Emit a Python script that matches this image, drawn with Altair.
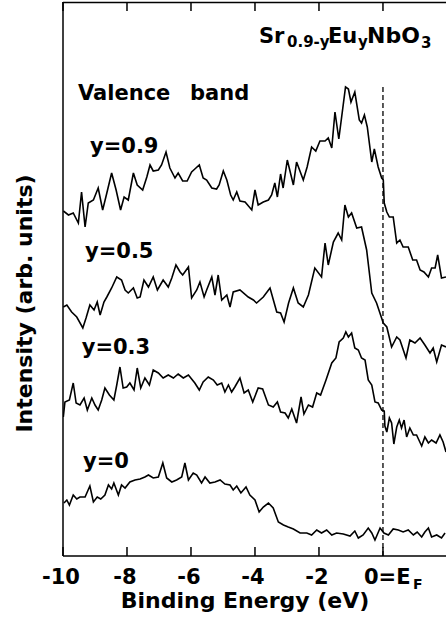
import altair as alt
import pandas as pd

# ---------------- data ----------------
series_names = ["y=0.9", "y=0.5", "y=0.3", "y=0"]

e09 = [-9.99,-9.83,-9.68,-9.52,-9.42,-9.31,-9.21,-9.05,-8.90,-8.76,-8.63,-8.48,-8.34,-8.20,-8.09,-7.96,-7.80,-7.68,-7.51,-7.38,
       -7.28,-7.18,-7.02,-6.92,-6.78,-6.66,-6.50,-6.40,-6.26,-6.12,-5.98,-5.88,-5.74,-5.62,-5.51,-5.35,-5.20,-5.12,-4.99,-4.88,
       -4.76,-4.68,-4.57,-4.47,-4.31,-4.10,-4.00,-3.90,-3.74,-3.58,-3.48,-3.38,-3.30,-3.20,-3.12,-2.99,-2.80,-2.70,-2.49,-2.37,
       -2.23,-2.10,-1.97,-1.81,-1.71,-1.60,-1.50,-1.38,-1.17,-1.08,-1.00,-0.88,-0.74,-0.67,-0.58,-0.49,-0.35,-0.27,-0.15,-0.04,
       0.01,0.04,0.12,0.20,0.32,0.43,0.53,0.63,0.79,0.93,1.05,1.16,1.28,1.42,1.52,1.63,1.71,1.83,1.97]
i09 = [345,341,343,333,364,329,353,356,368,346,363,383,366,346,359,356,383,371,366,379,
       391,385,386,391,404,388,378,383,375,375,384,387,391,378,376,368,367,371,385,376,
       361,356,364,355,354,346,366,351,354,356,361,373,359,382,368,396,371,394,376,389,
       409,405,415,415,418,408,444,417,469,467,454,464,436,433,441,429,394,407,389,378,
       376,353,344,339,339,313,316,309,309,296,296,286,284,279,288,288,301,278,279]

e05 = [-9.99,-9.88,-9.73,-9.57,-9.38,-9.28,-9.16,-9.03,-8.93,-8.84,-8.72,-8.63,-8.48,-8.32,-8.17,-8.06,-7.96,-7.80,-7.68,-7.59,
       -7.47,-7.33,-7.18,-7.05,-6.87,-6.71,-6.60,-6.47,-6.34,-6.26,-6.08,-5.98,-5.82,-5.72,-5.59,-5.51,-5.35,-5.25,-5.15,-5.04,
       -4.88,-4.78,-4.68,-4.47,-4.21,-4.05,-3.95,-3.74,-3.53,-3.32,-3.20,-3.09,-2.95,-2.80,-2.65,-2.49,-2.33,-2.13,-1.92,-1.81,
       -1.71,-1.55,-1.40,-1.29,-1.19,-1.08,-0.98,-0.82,-0.67,-0.51,-0.35,-0.20,0.01,0.12,0.27,0.43,0.53,0.72,0.84,1.00,
       1.16,1.31,1.47,1.57,1.68,1.83,1.97]
i05 = [249,251,244,239,228,238,251,246,254,241,254,259,268,279,276,266,263,268,258,259,
       276,269,279,266,276,269,278,291,284,281,289,258,266,274,259,266,279,261,281,256,
       261,249,264,266,259,256,253,259,268,244,243,234,253,268,253,249,261,288,279,313,
       291,314,323,316,351,339,343,328,329,306,263,253,233,229,209,219,216,198,216,213,
       218,211,203,208,194,211,209]

e03 = [-9.99,-9.94,-9.80,-9.68,-9.59,-9.47,-9.34,-9.24,-9.10,-9.00,-8.90,-8.79,-8.69,-8.55,-8.41,-8.32,-8.22,-8.12,-8.01,-7.91,
       -7.78,-7.68,-7.57,-7.44,-7.30,-7.18,-7.02,-6.87,-6.71,-6.55,-6.40,-6.24,-6.08,-5.88,-5.74,-5.62,-5.46,-5.30,-5.18,-5.04,
       -4.94,-4.83,-4.73,-4.63,-4.47,-4.34,-4.21,-4.07,-3.90,-3.76,-3.58,-3.43,-3.30,-3.20,-3.06,-2.96,-2.85,-2.70,-2.56,-2.47,
       -2.33,-2.20,-2.07,-1.95,-1.78,-1.60,-1.47,-1.37,-1.24,-1.16,-1.08,-0.98,-0.88,-0.77,-0.67,-0.56,-0.46,-0.35,-0.25,-0.15,
       -0.04,0.04,0.06,0.12,0.20,0.27,0.34,0.43,0.51,0.58,0.66,0.74,0.84,0.95,1.05,1.21,1.31,1.42,1.52,1.66,
       1.78,1.88,1.97]
i03 = [139,154,156,173,153,151,158,146,158,151,146,156,168,161,156,171,189,168,169,173,
       166,188,168,178,171,186,183,178,181,178,182,178,181,173,166,174,179,176,171,173,
       164,171,164,169,178,163,166,154,168,167,151,149,154,144,143,138,147,133,159,142,
       151,149,163,161,176,193,198,214,218,224,219,223,208,206,198,196,176,171,154,153,
       146,145,130,124,138,133,112,129,136,128,136,119,128,121,121,110,119,113,116,113,
       121,114,104]

e00 = [-9.97,-9.88,-9.80,-9.68,-9.57,-9.47,-9.31,-9.16,-9.05,-8.93,-8.82,-8.69,-8.58,-8.48,-8.41,-8.27,-8.17,-8.06,-7.91,-7.75,
       -7.59,-7.44,-7.33,-7.18,-7.02,-6.88,-6.76,-6.60,-6.45,-6.29,-6.19,-6.08,-5.93,-5.82,-5.67,-5.56,-5.41,-5.25,-5.09,-4.94,
       -4.78,-4.68,-4.57,-4.44,-4.28,-4.16,-4.00,-3.87,-3.74,-3.58,-3.43,-3.27,-3.11,-2.96,-2.80,-2.59,-2.38,-2.23,-2.07,-1.92,
       -1.76,-1.60,-1.45,-1.24,-1.03,-0.88,-0.77,-0.62,-0.46,-0.35,-0.25,-0.09,0.03,0.17,0.32,0.48,0.63,0.79,0.95,1.07,
       1.21,1.31,1.42,1.52,1.68,1.83,1.94]
i00 = [53,56,51,61,57,59,59,70,54,59,57,61,71,67,73,61,71,68,74,76,
       77,79,81,78,79,93,78,74,76,79,93,76,83,81,73,79,73,74,76,72,
       71,66,70,63,69,61,56,44,49,53,48,34,31,29,27,23,23,21,26,23,
       26,21,23,22,20,25,18,21,28,23,16,28,23,21,27,26,24,26,21,24,
       19,24,28,19,21,18,23]

tick_values = [-10, -8, -6, -4, -2, 0]
tick_labels = ["-10", "-8", "-6", "-4", "-2"]
fermi_energy = 0.0
fermi_top = 469

# ---------------- chart ----------------
frames = []
for name, e, i in zip(series_names, [e09, e05, e03, e00], [i09, i05, i03, i00]):
    frames.append(pd.DataFrame({"E": e, "I": i, "series": name}))
df = pd.concat(frames, ignore_index=True)

FONT = "DejaVu Sans"
xscale = alt.Scale(domain=[-10, 1.97], nice=False, zero=False)
yscale = alt.Scale(domain=[0, 554], nice=False, zero=False)

lines = alt.Chart(df).mark_line(color="black", strokeWidth=1.6, clip=True).encode(
    x=alt.X("E:Q", scale=xscale, axis=None),
    y=alt.Y("I:Q", scale=yscale, axis=None),
    detail="series:N",
)

fermi = alt.Chart(pd.DataFrame({"E": [fermi_energy], "top": [fermi_top], "bot": [0]})).mark_rule(
    color="black", strokeWidth=1.3, strokeDash=[5, 3]
).encode(
    x=alt.X("E:Q", scale=xscale, axis=None),
    y=alt.Y("top:Q", scale=yscale, axis=None),
    y2="bot:Q",
)

tick_df = pd.DataFrame({"E": tick_values})
ticks_bottom = alt.Chart(tick_df).mark_rule(color="black", strokeWidth=1.5).encode(
    x=alt.X("E:Q", scale=xscale, axis=None), y=alt.value(545), y2=alt.value(554))
ticks_top = alt.Chart(tick_df).mark_rule(color="black", strokeWidth=1.5).encode(
    x=alt.X("E:Q", scale=xscale, axis=None), y=alt.value(0), y2=alt.value(9))

frame_df = pd.DataFrame({"k": [0]})
top_border = alt.Chart(frame_df).mark_rule(color="black", strokeWidth=1.5).encode(
    x=alt.value(0), x2=alt.value(383), y=alt.value(0.5))
bottom_border = alt.Chart(frame_df).mark_rule(color="black", strokeWidth=1.5).encode(
    x=alt.value(0), x2=alt.value(383), y=alt.value(554))
left_border = alt.Chart(frame_df).mark_rule(color="black", strokeWidth=1.5).encode(
    x=alt.value(0), y=alt.value(0), y2=alt.value(554))

lab_df = pd.DataFrame({"E": tick_values[:-1], "label": tick_labels})
tick_text = alt.Chart(lab_df).mark_text(
    font=FONT, fontWeight="bold", fontSize=21, align="center", baseline="alphabetic", dx=-2, color="black"
).encode(x=alt.X("E:Q", scale=xscale, axis=None), y=alt.value(582), text="label:N")

ef_df = pd.DataFrame({"E": [fermi_energy]})
ef_main = alt.Chart(ef_df).mark_text(
    font=FONT, fontWeight="bold", fontSize=21, align="left", baseline="alphabetic", dx=-19, color="black"
).encode(x=alt.X("E:Q", scale=xscale, axis=None), y=alt.value(582), text=alt.value("0=E"))
ef_sub = alt.Chart(ef_df).mark_text(
    font=FONT, fontWeight="bold", fontSize=14, align="left", baseline="alphabetic", dx=30, color="black"
).encode(x=alt.X("E:Q", scale=xscale, axis=None), y=alt.value(587), text=alt.value("F"))


def txt(s, x, y, size, align="left", angle=0):
    return alt.Chart(pd.DataFrame({"t": [s]})).mark_text(
        font=FONT, fontWeight="bold", fontSize=size, align=align,
        baseline="alphabetic", angle=angle, color="black"
    ).encode(x=alt.value(x), y=alt.value(y), text="t:N")


annotations = [
    # formula Sr(0.9-y)Eu(y)NbO(3)
    txt("Sr", 196, 40.7, 21),
    txt("0.9-y", 224, 45, 15),
    txt("Eu", 265, 40.7, 21),
    txt("y", 295, 45, 15),
    txt("NbO", 304, 40.7, 22),
    txt("3", 358, 46, 15),
    txt("Valence", 15, 98, 21),
    txt("band", 127, 98, 21),
    txt("y=0.9", 27, 151, 21),
    txt("y=0.5", 22, 256.3, 21),
    txt("y=0.3", 18.7, 352, 21),
    txt("y=0", 20, 466.3, 21),
    txt("Binding Energy (eV)", 182, 606, 22, align="center"),
    txt("Intensity (arb. units)", -31.3, 301.5, 22, align="center", angle=270),
]

chart = alt.layer(
    lines, fermi, ticks_bottom, ticks_top, top_border, bottom_border, left_border,
    tick_text, ef_main, ef_sub, *annotations
).properties(
    width=383, height=554,
    padding={"left": 63, "top": 2, "right": 0, "bottom": 71},
    autosize=alt.AutoSizeParams(type="none"),
    background="white",
).configure_view(stroke=None)

chart.save("out.html", embed_options={"renderer": "svg", "actions": False})
